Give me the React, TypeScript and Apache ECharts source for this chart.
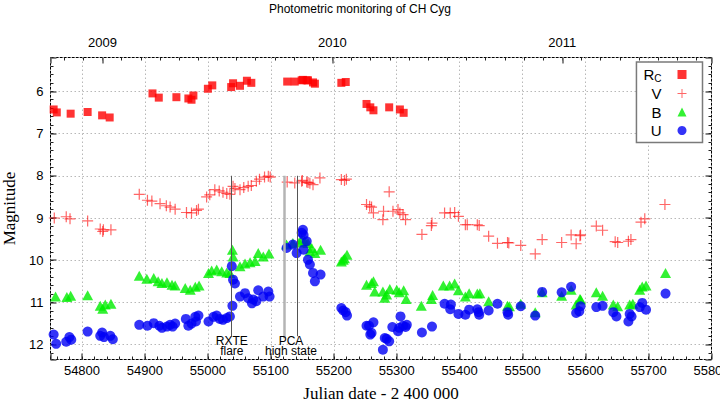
import React, { useEffect, useRef } from 'react';
import * as echarts from 'echarts';

// ---------- data (JD - 2400000, magnitude) ----------
const rcData: number[][] = [
  [54755, 6.43], [54760, 6.5], [54782, 6.53], [54809, 6.49], [54832, 6.57], [54844, 6.62],
  [54912, 6.05], [54922, 6.15], [54950, 6.14], [54969, 6.17], [54974, 6.2], [54977, 6.1],
  [55000, 5.94], [55007, 5.86], [55037, 5.9], [55040, 5.81], [55051, 5.87], [55062, 5.75],
  [55069, 5.8], [55126, 5.77], [55138, 5.77], [55149, 5.74], [55151, 5.73], [55157, 5.74],
  [55159, 5.74], [55167, 5.79], [55170, 5.82], [55212, 5.8], [55219, 5.78], [55252, 6.3],
  [55258, 6.38], [55263, 6.45], [55288, 6.38], [55305, 6.43], [55311, 6.51],
];

const vData: number[][] = [
  [54756, 9.0], [54775, 8.97], [54781, 9.02], [54809, 9.07], [54829, 9.26], [54833, 9.32],
  [54834, 9.28], [54846, 9.28], [54891, 8.44], [54904, 8.58], [54911, 8.6], [54924, 8.66],
  [54934, 8.71], [54940, 8.74], [54948, 8.79], [54966, 8.87], [54974, 8.88], [54982, 8.82],
  [54985, 8.79], [54998, 8.5], [55003, 8.45], [55011, 8.33], [55018, 8.36], [55024, 8.39],
  [55030, 8.42], [55035, 8.44], [55040, 8.25], [55043, 8.3], [55051, 8.33], [55057, 8.28],
  [55064, 8.25], [55069, 8.23], [55077, 8.13], [55082, 8.08], [55090, 8.03], [55096, 8.01],
  [55099, 8.03], [55126, 8.15], [55138, 8.17], [55149, 8.13], [55150, 8.11], [55157, 8.15],
  [55159, 8.16], [55162, 8.18], [55167, 8.21], [55178, 8.05], [55212, 8.09], [55217, 8.11],
  [55220, 8.08], [55252, 8.68], [55257, 8.72], [55260, 8.74], [55263, 8.88], [55278, 9.04],
  [55279, 8.84], [55288, 8.38], [55294, 8.84], [55302, 8.8], [55305, 8.88], [55310, 8.92],
  [55314, 9.04], [55340, 9.39], [55355, 9.18], [55356, 9.12], [55376, 8.88], [55385, 8.88],
  [55392, 8.87], [55398, 8.96], [55409, 9.16], [55412, 9.16], [55428, 9.16], [55431, 9.18],
  [55446, 9.43], [55460, 9.6], [55476, 9.58], [55478, 9.59], [55497, 9.65], [55520, 9.85],
  [55531, 9.51], [55562, 9.58], [55577, 9.4], [55585, 9.61], [55591, 9.42], [55592, 9.4],
  [55617, 9.19], [55627, 9.29], [55647, 9.56], [55651, 9.58], [55668, 9.55], [55672, 9.51],
  [55688, 9.1], [55694, 9.02], [55726, 8.68],
];

const bData: number[][] = [
  [54758, 10.86], [54776, 10.87], [54782, 10.84], [54809, 10.83], [54829, 11.08], [54833, 11.15],
  [54837, 11.05], [54846, 11.03], [54891, 10.37], [54903, 10.44], [54914, 10.42], [54921, 10.5],
  [54927, 10.54], [54935, 10.52], [54943, 10.58], [54948, 10.6], [54964, 10.66], [54972, 10.7],
  [54980, 10.63], [54986, 10.6], [55001, 10.3], [55006, 10.24], [55014, 10.22], [55022, 10.26],
  [55030, 10.29], [55035, 10.3], [55039, 9.75], [55040, 9.91], [55051, 10.14], [55059, 10.08],
  [55067, 10.05], [55075, 10.02], [55080, 9.83], [55088, 9.91], [55097, 9.84], [55125, 9.63],
  [55135, 9.59], [55145, 9.58], [55149, 9.51], [55154, 9.55], [55159, 9.59], [55162, 9.79],
  [55165, 9.71], [55170, 9.83], [55179, 9.75], [55212, 10.03], [55215, 9.99], [55217, 9.95],
  [55221, 9.87], [55252, 10.58], [55260, 10.54], [55263, 10.5], [55265, 10.74], [55278, 10.74],
  [55281, 10.89], [55284, 10.81], [55289, 10.68], [55300, 10.7], [55304, 10.76], [55311, 10.71],
  [55315, 10.92], [55339, 11.08], [55355, 10.92], [55357, 10.82], [55374, 10.6], [55384, 10.6],
  [55392, 10.55], [55398, 10.71], [55409, 10.86], [55415, 10.78], [55428, 10.79], [55432, 10.78],
  [55446, 10.97], [55476, 11.08], [55479, 11.09], [55497, 11.03], [55520, 11.23], [55531, 10.76],
  [55562, 10.84], [55577, 10.7], [55585, 11.05], [55591, 10.92], [55592, 10.93], [55617, 10.76],
  [55627, 10.84], [55644, 11.05], [55651, 11.09], [55670, 11.05], [55675, 11.03], [55686, 10.7],
  [55690, 10.62], [55696, 10.6], [55727, 10.3],
];

const uData: number[][] = [
  [54755, 11.76], [54759, 11.98], [54775, 11.93], [54780, 11.82], [54783, 11.88], [54809, 11.69],
  [54829, 11.79], [54832, 11.71], [54835, 11.82], [54845, 11.79], [54849, 11.87], [54891, 11.53],
  [54904, 11.55], [54914, 11.49], [54923, 11.55], [54927, 11.6], [54935, 11.57], [54940, 11.53],
  [54944, 11.57], [54948, 11.5], [54965, 11.39], [54969, 11.55], [54974, 11.5], [54980, 11.34],
  [54981, 11.45], [54985, 11.31], [55001, 11.45], [55009, 11.34], [55014, 11.31], [55019, 11.39],
  [55024, 11.41], [55030, 11.37], [55035, 11.33], [55039, 11.08], [55040, 10.46], [55043, 10.55],
  [55038, 10.14], [55051, 10.86], [55059, 10.78], [55064, 10.9], [55070, 11.02], [55072, 10.93],
  [55077, 10.97], [55080, 10.71], [55088, 10.86], [55096, 10.74], [55098, 10.86], [55125, 9.71],
  [55135, 9.63], [55141, 9.83], [55149, 9.35], [55151, 9.28], [55152, 9.4], [55152, 9.75],
  [55157, 9.55], [55159, 9.99], [55162, 10.1], [55167, 10.3], [55170, 10.5], [55179, 10.34],
  [55212, 11.13], [55215, 11.19], [55219, 11.23], [55221, 11.31], [55252, 11.55], [55256, 11.55],
  [55263, 11.47], [55260, 11.72], [55258, 11.76], [55278, 12.12], [55281, 11.84], [55284, 11.86],
  [55288, 11.92], [55293, 11.58], [55302, 11.68], [55304, 11.6], [55306, 11.33], [55310, 11.55],
  [55316, 11.53], [55314, 11.58], [55340, 11.71], [55356, 11.57], [55376, 11.03], [55385, 11.16],
  [55386, 11.05], [55398, 11.27], [55409, 11.29], [55415, 11.17], [55428, 11.16], [55431, 11.29],
  [55430, 11.23], [55446, 11.19], [55460, 11.03], [55476, 11.23], [55477, 11.29], [55497, 11.09],
  [55520, 11.31], [55531, 10.75], [55562, 10.76], [55577, 10.63], [55585, 11.25], [55590, 11.21],
  [55592, 11.09], [55617, 11.11], [55627, 11.08], [55644, 11.23], [55649, 11.33], [55668, 11.45],
  [55670, 11.27], [55673, 11.33], [55686, 11.11], [55690, 11.01], [55696, 11.17], [55727, 10.79],
];

// annotations: [JD, top mag, bottom mag]
const rxteLine = [55037.5, 8.0, 11.8];
const pcaLineA = [55120.6, 8.0, 11.85];
const pcaLineB = [55141.7, 8.0, 11.8];
const rxteLabel = ['RXTE', 'flare'];
const pcaLabel = ['PCA', 'high state'];

// year labels on top axis
const yearTickLabels = ['2009', '2010', '2011'];
const jdJan2009 = 54832.5;

const xMin = 54750;
const xMax = 55800;
const yMin = 5.2;
const yMax = 12.35;

const plusPath = 'path://M4.45,0H5.55V4.45H10V5.55H5.55V10H4.45V5.55H0V4.45H4.45Z';

const SANS = 'Liberation Sans';
const SERIF = 'Liberation Serif';

const gridBox = {
  left: 50.5,
  top: 57.5,
  width: 661,
  height: 302,
  containLabel: false,
  outerBoundsMode: 'none',
};

const majorTick = { show: true, inside: true, length: 6, lineStyle: { color: '#6a6a6a', width: 1.6 } };
const minorTickStyle = { show: true, inside: true, length: 3, lineStyle: { color: '#222', width: 1 } };
const dotted = { show: true, lineStyle: { color: '#b8b8b8', width: 1, type: [1.5, 2.5] } };
const noLabel = { show: false };
const noLine = { show: false, onZero: false };
const noSplit = { show: false };

const isInt = (v: number) => Math.abs(v - Math.round(v)) < 1e-6;

const monthMin = (xMin - jdJan2009) / 30.4375;
const monthMax = (xMax - jdJan2009) / 30.4375;
const yrMin = (xMin - jdJan2009) / 365.25;
const yrMax = (xMax - jdJan2009) / 365.25;

const option: any = {
  animation: false,
  backgroundColor: '#fff',
  textStyle: { fontFamily: SANS },
  title: {
    text: 'Photometric monitoring of CH Cyg',
    left: 'center',
    top: -2,
    textStyle: { fontFamily: SANS, fontSize: 12, fontWeight: 'normal', color: '#000' },
  },
  legend: {
    data: ['Rc', 'V', 'B', 'U'],
    orient: 'vertical',
    align: 'right',
    right: 17.5,
    top: 62,
    itemWidth: 9,
    itemHeight: 9,
    itemGap: 2.5,
    padding: [4, 16, 4, 7],
    borderColor: '#7a7a7a',
    borderWidth: 1.5,
    backgroundColor: '#fff',
    formatter: (name: string) => (name === 'Rc' ? '{r|R}{s|C}' : name),
    textStyle: {
      fontFamily: SANS,
      fontSize: 15,
      color: '#000',
      lineHeight: 16,
      padding: [0, 11, 0, 0],
      rich: {
        r: { fontFamily: SANS, fontSize: 15, color: '#000', lineHeight: 16 },
        s: { fontFamily: SANS, fontSize: 10, color: '#000', lineHeight: 16, padding: [7, 0, 0, 0] },
      },
    },
  },
  grid: [
    { ...gridBox, show: true, borderColor: '#000', borderWidth: 1, backgroundColor: 'transparent' },
    { ...gridBox },
    { ...gridBox },
    { ...gridBox },
  ],
  xAxis: [
    {
      type: 'value', gridIndex: 0, position: 'bottom', min: xMin, max: xMax,
      minInterval: 100, maxInterval: 100, splitNumber: 10,
      axisLine: noLine, axisTick: majorTick, splitLine: dotted,
      axisLabel: {
        show: true, margin: 4, fontSize: 13, color: '#000', fontFamily: SANS,
        showMaxLabel: true, showMinLabel: true,
        formatter: (v: number) => (Math.round(v) % 100 === 0 ? String(Math.round(v)) : ''),
      },
      name: 'Julian date - 2 400 000', nameLocation: 'middle', nameGap: 25,
      nameTextStyle: { fontFamily: SERIF, fontSize: 17, color: '#000' },
    },
    {
      type: 'value', gridIndex: 1, position: 'bottom', min: xMin, max: xMax,
      minInterval: 20, maxInterval: 20,
      axisLine: noLine, axisTick: minorTickStyle, splitLine: noSplit, axisLabel: noLabel,
    },
    {
      type: 'value', gridIndex: 2, position: 'top', min: monthMin, max: monthMax,
      minInterval: 1, maxInterval: 1,
      axisLine: noLine, axisTick: minorTickStyle, splitLine: noSplit, axisLabel: noLabel,
    },
    {
      type: 'value', gridIndex: 3, position: 'top', min: yrMin, max: yrMax,
      minInterval: 1, maxInterval: 1,
      axisLine: noLine, axisTick: majorTick, splitLine: noSplit,
      axisLabel: {
        show: true, margin: 9, fontSize: 13, color: '#000', fontFamily: SANS,
        showMinLabel: true, showMaxLabel: true,
        formatter: (v: number) => (isInt(v) && yearTickLabels[Math.round(v)] ? yearTickLabels[Math.round(v)] : ''),
      },
    },
  ],
  yAxis: [
    {
      type: 'value', gridIndex: 0, position: 'left', inverse: true, min: yMin, max: yMax,
      minInterval: 1, maxInterval: 1,
      axisLine: noLine, axisTick: majorTick, splitLine: dotted,
      axisLabel: {
        show: true, margin: 7, fontSize: 13, color: '#000', fontFamily: SANS,
        formatter: (v: number) => (isInt(v) ? String(Math.round(v)) : ''),
      },
      name: 'Magnitude', nameLocation: 'middle', nameGap: 32, nameRotate: 90,
      nameTextStyle: { fontFamily: SERIF, fontSize: 17, color: '#000' },
    },
    {
      type: 'value', gridIndex: 1, position: 'left', inverse: true, min: yMin, max: yMax,
      minInterval: 0.2, maxInterval: 0.2,
      axisLine: noLine, axisTick: minorTickStyle, splitLine: noSplit, axisLabel: noLabel,
    },
    {
      type: 'value', gridIndex: 2, position: 'right', inverse: true, min: yMin, max: yMax,
      minInterval: 1, maxInterval: 1,
      axisLine: noLine, axisTick: majorTick, splitLine: noSplit, axisLabel: noLabel,
    },
    {
      type: 'value', gridIndex: 3, position: 'right', inverse: true, min: yMin, max: yMax,
      minInterval: 0.2, maxInterval: 0.2,
      axisLine: noLine, axisTick: minorTickStyle, splitLine: noSplit, axisLabel: noLabel,
    },
  ],
  series: [
    {
      name: 'annot', type: 'scatter', xAxisIndex: 0, yAxisIndex: 0, data: [], silent: true, z: 1,
      markLine: {
        silent: true, symbol: ['none', 'none'], animation: false,
        label: { show: false },
        data: [
          [{ coord: [rxteLine[0], rxteLine[1]], lineStyle: { color: '#555', width: 1, type: 'solid' } },
           { coord: [rxteLine[0], rxteLine[2]] }],
          [{ coord: [pcaLineA[0], pcaLineA[1]], lineStyle: { color: '#b4b4b4', width: 2.5, type: 'solid' } },
           { coord: [pcaLineA[0], pcaLineA[2]] }],
          [{ coord: [pcaLineB[0], pcaLineB[1]], lineStyle: { color: '#555', width: 1, type: 'solid' } },
           { coord: [pcaLineB[0], pcaLineB[2]] }],
        ],
      },
      markPoint: {
        silent: true, symbol: 'rect', symbolSize: 1, animation: false,
        itemStyle: { color: 'rgba(0,0,0,0)' },
        label: { show: true, position: 'inside', fontFamily: SANS, fontSize: 12, lineHeight: 10, color: '#000' },
        data: [
          { coord: [55038, 12.02], label: { formatter: rxteLabel.join('\n') } },
          { coord: [55132, 12.02], label: { formatter: pcaLabel.join('\n') } },
        ],
      },
    },
    {
      name: 'Rc', type: 'scatter', xAxisIndex: 0, yAxisIndex: 0, symbol: 'rect', symbolSize: 8,
      itemStyle: { color: '#ff0000' }, data: rcData, z: 3,
    },
    {
      name: 'V', type: 'scatter', xAxisIndex: 0, yAxisIndex: 0, symbol: plusPath, symbolSize: 11,
      itemStyle: { color: 'rgba(255,0,0,0.75)' }, data: vData, z: 3,
    },
    {
      name: 'B', type: 'scatter', xAxisIndex: 0, yAxisIndex: 0, symbol: 'triangle', symbolSize: [11, 10],
      itemStyle: { color: '#00ee00' }, data: bData, z: 3,
    },
    {
      name: 'U', type: 'scatter', xAxisIndex: 0, yAxisIndex: 0, symbol: 'circle', symbolSize: 10,
      itemStyle: { color: '#0000f5' }, data: uData, z: 4,
    },
  ],
};

export default function App() {
  const ref = useRef<HTMLDivElement>(null);
  useEffect(() => {
    document.body.style.margin = '0';
    const chart = echarts.init(ref.current as HTMLDivElement, null, { renderer: 'svg' });
    chart.setOption(option);
    return () => chart.dispose();
  }, []);
  return <div ref={ref} style={{ position: 'fixed', left: 0, top: 0, width: 720, height: 404 }} />;
}
